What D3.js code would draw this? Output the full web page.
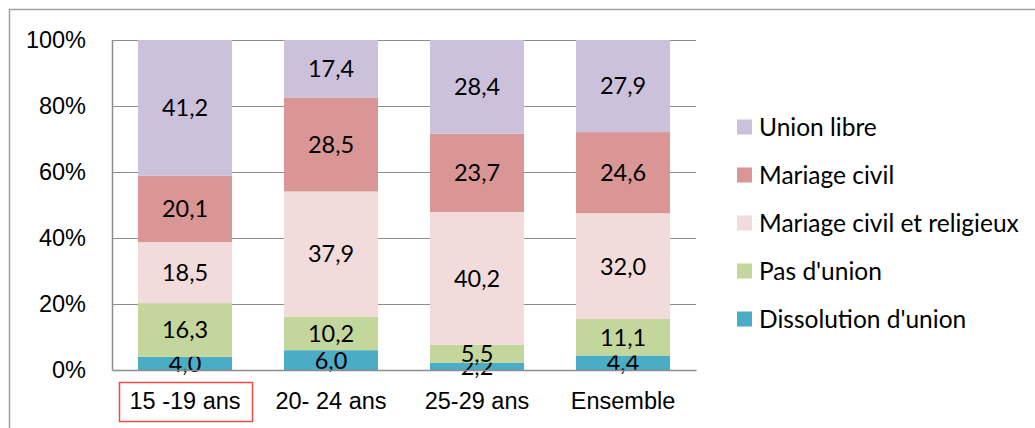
<!DOCTYPE html>
<html>
<head>
<meta charset="utf-8">
<script src="https://cdn.jsdelivr.net/npm/d3@7"></script>
<style>
  body { margin: 0; background: #fff; }
  svg { display: block; font-family: Lato, "Noto Sans", sans-serif; }
</style>
</head>
<body>
<div id="chart"></div>
<script>
// categories along x
var categories = ["15 -19 ans", "20- 24 ans", "25-29 ans", "Ensemble"];

// series, from bottom of the stack to top
var series_names = ["Dissolution d'union", "Pas d'union", "Mariage civil et religieux", "Mariage civil", "Union libre"];
var series_colors = ["#4bacc6", "#c3d69b", "#f2dcdb", "#d99694", "#ccc1da"];

var dissolution = [4.0, 6.0, 2.2, 4.4];
var pas_union = [16.3, 10.2, 5.5, 11.1];
var mariage_civ_rel = [18.5, 37.9, 40.2, 32.0];
var mariage_civil = [20.1, 28.5, 23.7, 24.6];
var union_libre = [41.2, 17.4, 28.4, 27.9];

var y_ticks = [0, 20, 40, 60, 80, 100];

var width = 1035, height = 428;
var margin = {top: 40, left: 112, right: 339, bottom: 58};
var font_size = "23.5px";

var svg = d3.select("#chart").append("svg")
  .attr("width", width).attr("height", height);

// outer frame (right/bottom run off the picture)
svg.append("rect")
  .attr("x", 9.5).attr("y", 9.5)
  .attr("width", 1040).attr("height", 440)
  .attr("fill", "none").attr("stroke", "#a0a0a0").attr("stroke-width", 1.5);

var plot_w = width - margin.left - margin.right;
var plot_h = height - margin.top - margin.bottom;
var g = svg.append("g").attr("transform", "translate(" + margin.left + "," + margin.top + ")");

// build rows for the stack
var keys = series_names;
var arrays = [dissolution, pas_union, mariage_civ_rel, mariage_civil, union_libre];
var rows = categories.map(function(c, i) {
  var r = {cat: c};
  keys.forEach(function(k, j) { r[k] = arrays[j][i]; });
  return r;
});

// normalise each column to 100%
var stack = d3.stack().keys(keys).offset(d3.stackOffsetExpand);
var stacked = stack(rows);

var x = d3.scaleBand().domain(categories).range([0, plot_w]).paddingInner(0.356).paddingOuter(0.178);
var y = d3.scaleLinear().domain([0, 1]).range([plot_h, 0]);

// gridlines
g.append("g").selectAll("line").data(y_ticks.slice(1)).join("line")
  .attr("x1", 0).attr("x2", plot_w)
  .attr("y1", function(d) { return Math.round(y(d / 100)) + 0.5; })
  .attr("y2", function(d) { return Math.round(y(d / 100)) + 0.5; })
  .attr("stroke", "#8c8c8c").attr("stroke-width", 1.2);

// bars
var layers = g.append("g").selectAll("g").data(stacked).join("g")
  .attr("fill", function(d, i) { return series_colors[i]; });

layers.selectAll("rect").data(function(d) { return d; }).join("rect")
  .attr("x", function(d) { return x(d.data.cat); })
  .attr("width", x.bandwidth())
  .attr("y", function(d) { return y(d[1]); })
  .attr("height", function(d) { return y(d[0]) - y(d[1]); });

// value labels
layers.selectAll("text").data(function(d) { return d.map(function(p) { p.key = d.key; return p; }); }).join("text")
  .attr("x", function(d) { return x(d.data.cat) + x.bandwidth() / 2; })
  .attr("y", function(d) { return (y(d[0]) + y(d[1])) / 2; })
  .attr("dy", "0.36em")
  .attr("text-anchor", "middle")
  .attr("fill", "#000")
  .style("font-size", font_size)
  .text(function(d) { return d3.format(".1f")(d.data[d.key]).replace(".", ","); });

// axes
var y_axis = g.append("g")
  .call(d3.axisLeft(y).tickValues(y_ticks.map(function(v) { return v / 100; }))
    .tickFormat(function(v) { return Math.round(v * 100) + "%"; }).tickSize(0).tickPadding(26));
y_axis.select(".domain").attr("stroke", "#8c8c8c").attr("stroke-width", 1.5);
y_axis.selectAll("text").style("font-size", font_size).attr("fill", "#000");

var x_axis = g.append("g").attr("transform", "translate(0," + plot_h + ")")
  .call(d3.axisBottom(x).tickSize(0).tickPadding(22));
x_axis.select(".domain").attr("stroke", "#8c8c8c").attr("stroke-width", 1.5);
x_axis.selectAll("text").style("font-size", font_size).attr("fill", "#000");

// red box around first category label
svg.append("rect")
  .attr("x", 119.5).attr("y", 382.5).attr("width", 133).attr("height", 39)
  .attr("fill", "none").attr("stroke", "#f04a4a").attr("stroke-width", 1.5);

// legend, top to bottom = top of stack first
var legend = svg.append("g").attr("transform", "translate(737,127)");
var leg_items = legend.selectAll("g").data(series_names.slice().reverse()).join("g")
  .attr("transform", function(d, i) { return "translate(0," + (i * 48) + ")"; });
leg_items.append("rect")
  .attr("x", 0).attr("y", -7.5).attr("width", 15).attr("height", 15)
  .attr("fill", function(d) { return series_colors[series_names.indexOf(d)]; });
leg_items.append("text")
  .attr("x", 22).attr("dy", "0.36em")
  .style("font-size", "24.5px").attr("fill", "#000")
  .text(function(d) { return d; });
</script>
</body>
</html>
